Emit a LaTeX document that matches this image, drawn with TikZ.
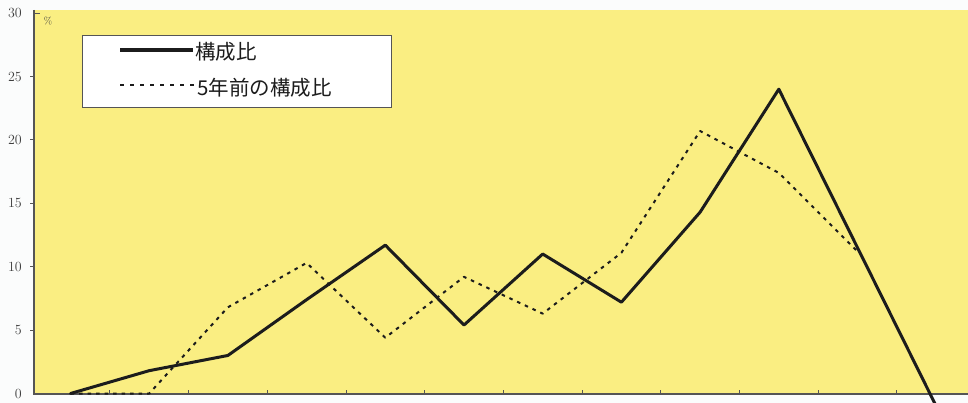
\documentclass[tikz,border=0pt]{standalone}
\usepackage{fontspec}
\newfontfamily\jp{Noto Sans CJK JP}
\definecolor{bgyellow}{RGB}{250,238,130}
\definecolor{axisgray}{RGB}{85,85,85}
\definecolor{ink}{RGB}{28,28,28}
\definecolor{paper}{RGB}{251,252,252}
\tikzset{
  ylab/.style={anchor=east, font=\fontsize{14}{14}\selectfont, text=ink!85, inner sep=0pt},
  axisline/.style={draw=axisgray, line width=1.2pt},
  tickline/.style={draw=axisgray, line width=0.9pt},
  nowline/.style={draw=ink, line width=3pt, line join=round, line cap=round},
  pastline/.style={draw=ink, line width=2pt, dash pattern=on 3.5pt off 5pt, line join=round},
  legendbox/.style={draw=axisgray, line width=1.2pt, fill=white},
  legtext/.style={anchor=west, font=\jp\fontsize{20.5}{20.5}\selectfont, text=ink, inner sep=0pt}
}
\begin{document}
\begin{tikzpicture}[x=1pt,y=-1pt]
\useasboundingbox (0,0) rectangle (968,403);
\fill[paper] (0,0) rectangle (968,403);
\fill[bgyellow] (34,10) rectangle (968,394);
\clip (0,0) rectangle (968,403);
% axes
\draw[axisline] (34,10) -- (34,394) -- (968,394);
\draw[tickline] (34,13.1) -- (40,13.1);
\foreach \v in {5,10,...,25} {
  \draw[tickline] (30,393.5-12.68*\v) -- (34,393.5-12.68*\v);
}
\foreach \v/\n in {0/l0,5/l5,10/l10,15/l15,20/l20,25/l25,30/l30} {
  \node[ylab] (\n) at (22,393.5-12.68*\v) {\v};
}
\node[anchor=center, font=\fontsize{10}{10}\selectfont, text=ink!85, inner sep=0pt] (pct) at (48,21) {\%};
% data
\begin{scope}[shift={(-8.2,393.5)}, xscale=78.7, yscale=-12.68]
  \foreach \t in {1.5,2.5,...,11.5} {
    \draw[tickline] (\t,0) -- (\t,0.3);
  }
  \draw[pastline] (1,0) -- (2,0) -- (3,6.8) -- (4,10.3) -- (5,4.4) -- (6,9.2)
     -- (7,6.3) -- (8,11.1) -- (9,20.7) -- (10,17.4) -- (11,11.2);
  \draw[nowline] (1,0) -- (2,1.8) -- (3,3.0) -- (4,7.4) -- (5,11.7) -- (6,5.4)
     -- (7,11.0) -- (8,7.2) -- (9,14.3) -- (10,24.0) -- (11,11.5) -- (12,-1.0);
\end{scope}
% legend
\node[legendbox, minimum width=309pt, minimum height=72pt, anchor=north west, inner sep=0pt] (legend) at (82,35) {};
\coordinate (s1) at (120,50);
\coordinate (s2) at (193,50);
\draw[draw=ink, line width=4pt] (s1) -- (s2);
\node[legtext] (t1) at (195,52) {構成比};
\coordinate (d1) at (120,85);
\coordinate (d2) at (196,85);
\draw[draw=ink, line width=2pt, dash pattern=on 4pt off 6pt] (d1) -- (d2);
\node[legtext] (t2) at (197,88) {5年前の構成比};
\end{tikzpicture}
\end{document}
